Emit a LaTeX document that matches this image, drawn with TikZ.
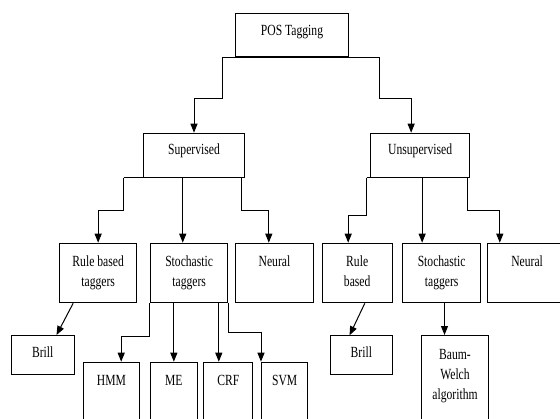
\documentclass[tikz,border=0pt]{standalone}
\usepackage{fontspec}
\setmainfont[FakeStretch=0.75]{Liberation Serif}
\usetikzlibrary{arrows.meta,calc}
\begin{document}
\begin{tikzpicture}[x=1pt,y=-1pt,
  box/.style={draw, line width=1pt, inner sep=0pt, anchor=north west},
  txt/.style={font=\fontsize{15.5}{20.5}\selectfont, inner sep=0pt, align=center, anchor=base},
  conn/.style={line width=1pt},
  arr/.style={line width=1pt, -{Triangle[length=9pt,width=7pt]}}]
\useasboundingbox (0,0) rectangle (560,418);
\clip (0,0) rectangle (560,418);
% boxes
\node[box, minimum width=112.4pt, minimum height=43.3pt] (pos) at (235.3,12.7) {};
\node[box, minimum width=101.6pt, minimum height=44pt] (sup) at (142.7,132.7) {};
\node[box, minimum width=99.3pt, minimum height=44pt] (uns) at (370,132.7) {};
\node[box, minimum width=77.3pt, minimum height=59.6pt] (rbt) at (59,242.7) {};
\node[box, minimum width=77.3pt, minimum height=59.6pt] (st1) at (150,242.7) {};
\node[box, minimum width=77.4pt, minimum height=59.6pt] (neu1) at (235.3,242.7) {};
\node[box, minimum width=70pt, minimum height=59.6pt] (rb2) at (321.7,242.7) {};
\node[box, minimum width=77.7pt, minimum height=59.6pt] (st2) at (402.3,242.7) {};
\node[box, minimum width=78.7pt, minimum height=59.6pt] (neu2) at (487.3,242.7) {};
\node[box, minimum width=63pt, minimum height=39.3pt] (brill1) at (10.7,335) {};
\node[box, minimum width=61.7pt, minimum height=39pt] (brill2) at (330,335.3) {};
\node[box, minimum width=56.6pt, minimum height=70pt] (hmm) at (82.7,361.7) {};
\node[box, minimum width=46.7pt, minimum height=70pt] (me) at (150,361.7) {};
\node[box, minimum width=49pt, minimum height=70pt] (crf) at (203.3,361.7) {};
\node[box, minimum width=46.3pt, minimum height=70pt] (svm) at (261,361.7) {};
\node[box, minimum width=66.4pt, minimum height=95pt] (bw) at (421.3,335) {};
% texts (anchor=base is the baseline of the last line)
\node[txt] (tpos) at ($(pos.north)+(0,22.5)$) {POS Tagging};
\node[txt] (tsup) at ($(sup.north)+(0,22)$) {Supervised};
\node[txt] (tuns) at ($(uns.north)+(0,22)$) {Unsupervised};
\node[txt] (trbt) at ($(rbt.north)+(0,44)$) {Rule based\\taggers};
\node[txt] (tst1) at ($(st1.north)+(0,44)$) {Stochastic\\taggers};
\node[txt] (tneu1) at ($(neu1.north)+(0,23.5)$) {Neural};
\node[txt] (trb2) at ($(rb2.north)+(0,44)$) {Rule\\based};
\node[txt] (tst2) at ($(st2.north)+(0,44)$) {Stochastic\\taggers};
\node[txt] (tneu2) at ($(neu2.north)+(0,23.5)$) {Neural};
\node[txt] (tbr1) at ($(brill1.north)+(0,22.5)$) {Brill};
\node[txt] (tbr2) at ($(brill2.north)+(0,22.5)$) {Brill};
\node[txt] (thmm) at ($(hmm.north)+(0,23.5)$) {HMM};
\node[txt] (tme) at ($(me.north)+(0,23.5)$) {ME};
\node[txt] (tcrf) at ($(crf.north)+(0,23.5)$) {CRF};
\node[txt] (tsvm) at ($(svm.north)+(0,23.5)$) {SVM};
\node[txt, font=\fontsize{15.5}{20}\selectfont] (tbw) at ($(bw.north)+(0,64)$) {Baum-\\Welch\\algorithm};
% entry points
\coordinate (unsin) at ($(uns.north)+(-9,0)$);
\coordinate (st1in) at ($(st1.north)+(-6.4,0)$);
\coordinate (neu1in) at ($(neu1.north)+(-5.7,0)$);
\coordinate (rb2in) at ($(rb2.north)+(-9,0)$);
\coordinate (st2in) at ($(st2.north)+(-19.5,0)$);
\coordinate (neu2in) at ($(neu2.north)+(-27.35,0)$);
\coordinate (hmmin) at ($(hmm.north)+(9.7,0)$);
\coordinate (crfin) at ($(crf.north)+(-9.5,0)$);
\coordinate (bwin) at ($(bw.north)+(-10.5,0)$);
% connectors
\draw[conn] ([xshift=-13pt]pos.south west) -- ([xshift=31pt]pos.south east);
\draw[arr] ([xshift=-13pt]pos.south west) -- ++(0,41) -| (sup.north);
\draw[arr] ([xshift=31pt]pos.south east) -- ++(0,41) -| (unsin);
\draw[conn] ([xshift=-19pt]sup.south west) -- (sup.south east);
\draw[arr] ([xshift=-19pt]sup.south west) -- ++(0,32.3) -| (rbt.north);
\draw[arr] (sup.south -| st1in) -- (st1in);
\draw[arr] ([xshift=-3.6pt]sup.south east) -- ++(0,32.3) -| (neu1in);
\draw[conn] ([xshift=-3.3pt]uns.south west) -- (uns.south east);
\draw[arr] ([xshift=-3.3pt]uns.south west) -- ++(0,37.3) -| (rb2in);
\draw[arr] (uns.south -| st2in) -- (st2in);
\draw[arr] ([xshift=-2.6pt]uns.south east) -- ++(0,32.3) -| (neu2in);
\draw[arr] ([xshift=-1pt]st1.south west) -- ++(0,32.7) -| (hmmin);
\draw[arr] (st1.south -| me.north) -- (me.north);
\draw[arr] (st1.south -| crfin) -- (crfin);
\draw[arr] (st1.south east) -- ++(0,29.4) -| (svm.north west);
\draw[arr] ($(rbt.south)+(-25,0)$) -- ($(brill1.north)+(13.8,0)$);
\draw[arr] ($(rb2.south)+(7.6,0)$) -- ($(brill2.north)+(-11.8,0)$);
\draw[arr] (st2.south -| bwin) -- (bwin);
\end{tikzpicture}
\end{document}
